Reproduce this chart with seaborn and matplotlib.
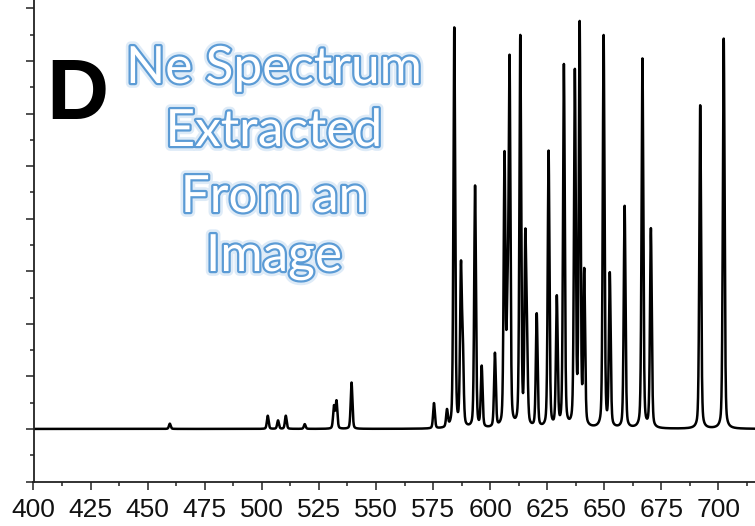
import numpy as np
import pandas as pd
import matplotlib
matplotlib.use("Agg")
import matplotlib.pyplot as plt
import matplotlib.patheffects as pe
from matplotlib import font_manager
from matplotlib.ticker import MultipleLocator
import seaborn as sns

# ---- data ----
# emission line centres (nm) and heights above the baseline (axis units)
line_centers = [459.7, 502.6, 507.1, 510.5, 518.8, 531.6, 532.7, 539.3, 575.4, 581.1,
                584.3, 587.2, 588.0, 593.4, 596.3, 602.1, 606.3, 607.6, 608.5, 613.2,
                615.4, 616.1, 620.4, 625.6, 629.2, 632.3, 637.1, 639.2, 641.2, 649.7,
                652.4, 658.9, 666.7, 670.4, 692.0, 702.3]
line_heights = [0.10, 0.25, 0.16, 0.25, 0.09, 0.42, 0.52, 0.88, 0.48, 0.32,
                7.60, 2.90, 1.40, 4.60, 1.15, 1.40, 5.10, 1.90, 6.80, 7.40,
                3.35, 1.40, 2.15, 5.25, 2.45, 6.88, 6.70, 7.60, 2.90, 7.45,
                2.90, 4.22, 7.02, 3.78, 6.15, 7.42]
baseline_level = 1.0
line_width_nm = 0.4
x_ticks = [400, 425, 450, 475, 500, 525, 550, 575, 600, 625, 650, 675, 700]
annotation_lines = ["Ne Spectrum", "Extracted", "From an", "Image"]
panel_letter = "D"

# ---- build spectrum from the read lines ----
wl = np.arange(400.0, 716.05, 0.05)
inten = np.full_like(wl, baseline_level)
eta = 0.4
for c, h in zip(line_centers, line_heights):
    d = wl - c
    g = np.exp(-0.5 * (d / line_width_nm) ** 2)
    lor = line_width_nm ** 2 / (d ** 2 + line_width_nm ** 2)
    inten += h * ((1 - eta) * g + eta * lor)
df = pd.DataFrame({"wavelength": wl, "intensity": inten})

sns.set_theme(style="ticks")
avail = {f.name for f in font_manager.fontManager.ttflist}
narrow = "Liberation Sans Narrow" in avail
tick_family = ["Liberation Sans Narrow", "DejaVu Sans"] if narrow else ["Liberation Sans", "DejaVu Sans"]
tick_size = 20 if narrow else 19
plt.rcParams["font.family"] = ["Liberation Sans", "DejaVu Sans"]

W, H = 755, 526
fig = plt.figure(figsize=(W / 100, H / 100), dpi=100)
ax = fig.add_axes([33.5 / W, (H - 481.5) / H, 1 - 33.5 / W, 481.5 / H])
sns.lineplot(data=df, x="wavelength", y="intensity", ax=ax, color="black",
             linewidth=1.8, estimator=None, sort=False)

ax.set_xlim(400, 716)
ax.set_ylim(0, 9.16)
ax.set_xticks(x_ticks)
ax.set_xticklabels([str(t) for t in x_ticks], fontfamily=tick_family, fontsize=tick_size)
ax.xaxis.set_minor_locator(MultipleLocator(12.5))
ax.yaxis.set_major_locator(MultipleLocator(1))
ax.yaxis.set_minor_locator(MultipleLocator(0.5))
ax.set_yticklabels([])
ax.tick_params(axis="both", which="major", direction="out", length=6, width=1.1, color="#222222")
ax.tick_params(axis="both", which="minor", direction="out", length=3, width=1.1, color="#222222")
ax.tick_params(axis="x", which="major", pad=5.8, labelcolor="#111111")
ax.set_xlabel("")
ax.set_ylabel("")
for s in ["top", "right"]:
    ax.spines[s].set_visible(False)
for s in ["left", "bottom"]:
    ax.spines[s].set_linewidth(1.3)
    ax.spines[s].set_color("#222222")

# panel letter
fig.text(46 / W, 1 - 119 / H, panel_letter, fontsize=62, fontweight="bold",
         color="black", ha="left", va="baseline", family=["Liberation Sans", "DejaVu Sans"])

# annotation text, white with blue outline and glow
effects = [pe.Stroke(linewidth=7, foreground="#d6e6f6", alpha=0.8),
           pe.Stroke(linewidth=3.2, foreground="#5b9bd5"),
           pe.Normal()]
baselines = [83, 146, 212, 271]
for txt, yb in zip(annotation_lines, baselines):
    fig.text(274 / W, 1 - yb / H, txt, fontsize=37, fontweight="normal", color="white",
             ha="center", va="baseline", family=["Lato", "DejaVu Sans"],
             path_effects=effects)

fig.savefig("out.png", dpi=100)
